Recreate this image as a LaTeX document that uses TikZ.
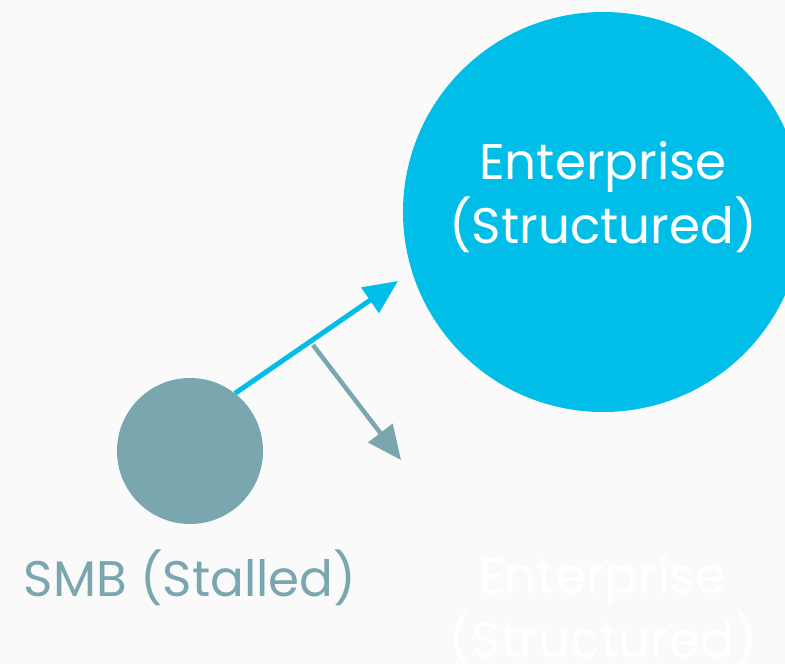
\documentclass[tikz,border=0pt]{standalone}
\usepackage{fontspec}
\setmainfont{Poppins}
\usetikzlibrary{arrows.meta}
\definecolor{bgc}{RGB}{250,250,250}
\definecolor{entblue}{RGB}{0,190,232}
\definecolor{smbgray}{RGB}{122,166,176}
\begin{document}
\begin{tikzpicture}[x=1pt,y=-1pt,
  lbl/.style={font=\fontsize{50}{64}\selectfont, align=center, inner sep=0pt},
  conn/.style={line width=5pt, -{Triangle[length=34pt,width=30pt]}}]
\fill[bgc] (0,0) rectangle (785,664);
\useasboundingbox (0,0) rectangle (785,664);
\node[circle, fill=entblue, minimum size=400pt, inner sep=0pt] (ent) at (603,212) {};
\node[circle, fill=smbgray, minimum size=146pt, inner sep=0pt] (smb) at (190,451) {};
\node[lbl, text=white] (entlbl) at (603,197) {Enterprise\\(Structured)};
\node[lbl, text=smbgray] (smblbl) at (190,578) {SMB (Stalled)};
\node[lbl, text=white] (ghost) at (603,611) {Enterprise\\(Structured)};
\coordinate (fork) at (313,345);
\coordinate (down) at (401,460);
\coordinate (up) at (398,281);
\draw[conn, smbgray, line width=4.5pt] (fork) -- (down);
\draw[conn, entblue] (smb.52) -- (up);
\end{tikzpicture}
\end{document}
